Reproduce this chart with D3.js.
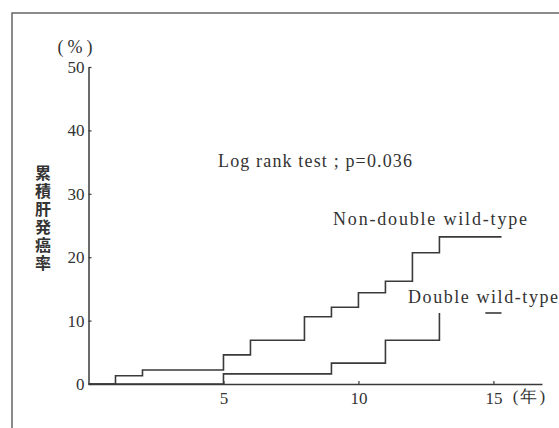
<!DOCTYPE html>
<html>
<head>
<meta charset="utf-8">
<script src="https://cdn.jsdelivr.net/npm/d3@7"></script>
<style>
  body { margin: 0; background: #fff; }
  svg text { fill: #333; }
</style>
</head>
<body>
<div id="chart"></div>
<script>
// years and cumulative rates (%)
const nonDoubleYears = [0, 1, 2, 5, 6, 8, 9, 10, 11, 12, 13, 15.3];
const nonDoubleRates = [0, 1.3, 2.2, 4.6, 6.9, 10.6, 12.1, 14.4, 16.2, 20.7, 23.2, 23.2];
const doubleYears = [0, 5, 9, 11, 13];
const doubleRates = [0, 1.6, 3.3, 6.9, 11.2];
const doubleTailYears = [14.7, 15.3];
const doubleTailRates = [11.2, 11.2];

const xTicks = [5, 10, 15];
const yTicks = [0, 10, 20, 30, 40, 50];
const yTitle = "累積肝発癌率";

const width = 559;
const height = 428;
const serif = "'Liberation Serif', 'DejaVu Serif', serif";
const cjk = "'Noto Sans CJK JP', sans-serif";
const ink = "#3a3a3a";

const svg = d3.select("#chart")
  .append("svg")
  .attr("width", width)
  .attr("height", height);

// outer frame, only top and left edges fall inside the picture
svg.append("rect")
  .attr("x", 12)
  .attr("y", 13)
  .attr("width", 600)
  .attr("height", 500)
  .attr("fill", "none")
  .attr("stroke", "#666")
  .attr("stroke-width", 1.5);

const x = d3.scaleLinear().domain([0, 16.8]).range([88.5, 542]);
const y = d3.scaleLinear().domain([0, 50]).range([384, 67]);

const xAxis = svg.append("g")
  .attr("transform", `translate(0,${y(0)})`)
  .call(d3.axisBottom(x).tickValues(xTicks).tickSize(-3).tickSizeOuter(0).tickPadding(8));

const yAxis = svg.append("g")
  .attr("transform", `translate(${x(0)},0)`)
  .call(d3.axisLeft(y).tickValues(yTicks).tickSize(-3).tickSizeOuter(0).tickPadding(4));

[xAxis, yAxis].forEach(a => {
  a.select(".domain").attr("stroke", ink).attr("stroke-width", 1.5);
  a.selectAll(".tick line").attr("stroke", ink).attr("stroke-width", 1.2);
  a.selectAll(".tick text")
    .attr("fill", "#333")
    .style("font-family", serif)
    .style("font-size", "17px");
});

svg.append("text")
  .attr("x", 530)
  .attr("y", 402)
  .attr("text-anchor", "middle")
  .style("font-family", serif)
  .style("font-size", "17px")
  .style("letter-spacing", "2px")
  .text("(年)");

svg.append("text")
  .attr("x", 77)
  .attr("y", 53)
  .attr("text-anchor", "middle")
  .style("font-family", serif)
  .style("font-size", "18px")
  .style("letter-spacing", "4px")
  .text("(%)");

// vertical y title
svg.append("text")
  .attr("x", 43)
  .attr("y", 165)
  .style("writing-mode", "vertical-rl")
  .style("font-family", cjk)
  .style("font-size", "16px")
  .style("font-weight", "bold")
  .style("letter-spacing", "2px")
  .text(yTitle);

const line = d3.line()
  .x(d => x(d[0]))
  .y(d => y(d[1]))
  .curve(d3.curveStepAfter);

const series = [
  d3.zip(nonDoubleYears, nonDoubleRates),
  d3.zip(doubleYears, doubleRates),
  d3.zip(doubleTailYears, doubleTailRates)
];

svg.append("g")
  .selectAll("path")
  .data(series)
  .join("path")
  .attr("d", line)
  .attr("fill", "none")
  .attr("stroke", ink)
  .attr("stroke-width", 1.6);

svg.append("text")
  .attr("x", 218)
  .attr("y", 167)
  .attr("textLength", 194)
  .style("font-family", serif)
  .style("font-size", "18px")
  .text("Log rank test ; p=0.036");

svg.append("text")
  .attr("x", 333)
  .attr("y", 225)
  .attr("textLength", 194)
  .style("font-family", serif)
  .style("font-size", "18px")
  .text("Non-double wild-type");

svg.append("text")
  .attr("x", 408)
  .attr("y", 303)
  .attr("textLength", 150)
  .style("font-family", serif)
  .style("font-size", "18px")
  .text("Double wild-type");
</script>
</body>
</html>
